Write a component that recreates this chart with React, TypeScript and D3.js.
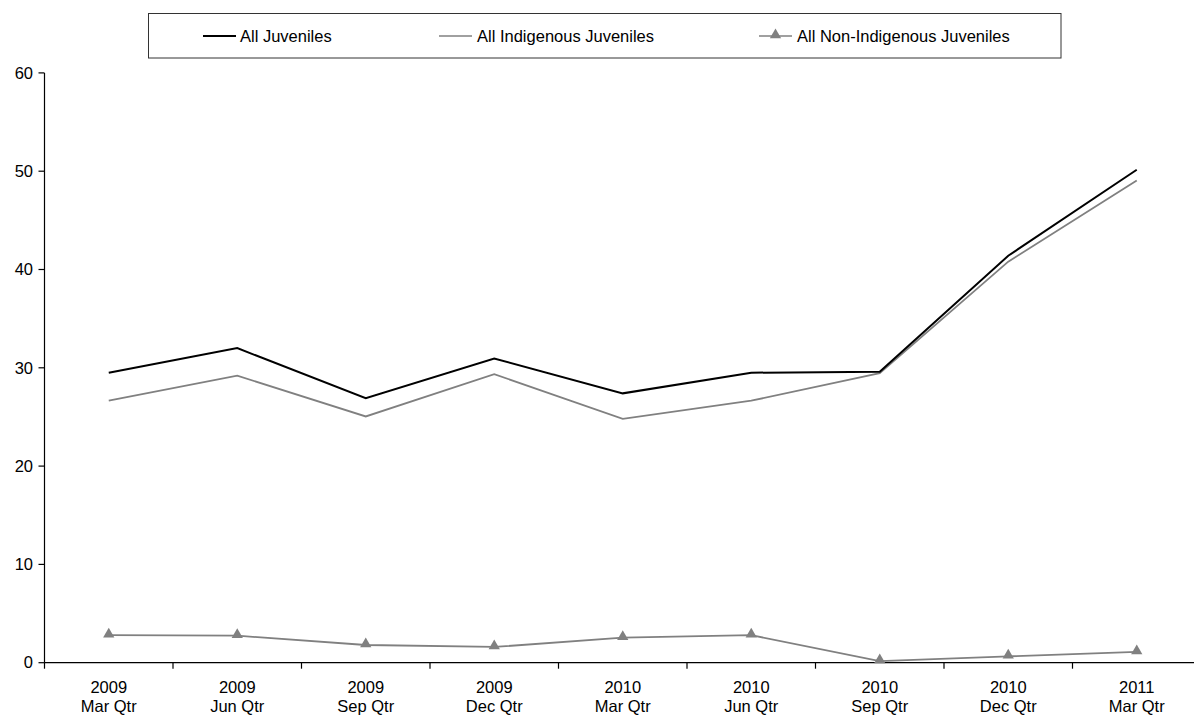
import React from "react";
import * as d3 from "d3";

const years = ["2009", "2009", "2009", "2009", "2010", "2010", "2010", "2010", "2011"];
const quarters = ["Mar Qtr", "Jun Qtr", "Sep Qtr", "Dec Qtr", "Mar Qtr", "Jun Qtr", "Sep Qtr", "Dec Qtr", "Mar Qtr"];
const categories = years.map((y, i) => `${y} ${quarters[i]}`);

const allJuveniles = [29.5, 32.0, 26.9, 30.95, 27.4, 29.5, 29.6, 41.4, 50.15];
const indigenousJuveniles = [26.65, 29.2, 25.05, 29.35, 24.8, 26.65, 29.45, 40.8, 49.05];
const nonIndigenousJuveniles = [2.8, 2.75, 1.8, 1.6, 2.55, 2.8, 0.17, 0.65, 1.1];

const yTicks = [0, 10, 20, 30, 40, 50, 60];

const seriesNames = ["All Juveniles", "All Indigenous Juveniles", "All Non-Indigenous Juveniles"];

const FONT = "'Liberation Sans', Arial, sans-serif";

export default function App() {
  const W = 1194, H = 715;
  const x0 = 44.5, step = 128.5;
  const x = d3.scaleBand<string>().domain(categories).range([x0, x0 + step * categories.length]).padding(0);
  const y = d3.scaleLinear().domain([0, 60]).range([662.7, 72.9]);
  const cx = (c: string) => (x(c) as number) + x.bandwidth() / 2;

  const line = d3.line<number>().x((_, i) => cx(categories[i])).y((d) => y(d));
  const tri = d3.symbol().type(d3.symbolTriangle).size(55);
  const triPath = tri() as string;

  const tickXs = categories.map((c) => x(c) as number).concat([(x(categories[categories.length - 1]) as number) + x.bandwidth()]);

  const legendEntries = [
    { name: seriesNames[0], x1: 203, x2: 236, tx: 240, color: "#000", w: 2, marker: false },
    { name: seriesNames[1], x1: 439, x2: 472, tx: 477, color: "#808080", w: 1.5, marker: false },
    { name: seriesNames[2], x1: 759, x2: 792, tx: 797, color: "#808080", w: 1.5, marker: true },
  ];

  return (
    <svg width={W} height={H} style={{ position: "absolute", left: 0, top: 0, background: "#fff" }} fontFamily={FONT}>
      {/* Legend */}
      <rect x={148.5} y={13.5} width={912.5} height={44.5} fill="#fff" stroke="#333" strokeWidth={1} />
      {legendEntries.map((e) => (
        <g key={e.name}>
          <line x1={e.x1} x2={e.x2} y1={36} y2={36} stroke={e.color} strokeWidth={e.w} />
          {e.marker && <path d={triPath} transform={`translate(${(e.x1 + e.x2) / 2},35)`} fill="#808080" />}
          <text x={e.tx} y={36.5} dy="0.35em" fontSize={16.5} fill="#000">{e.name}</text>
        </g>
      ))}

      {/* Y axis */}
      <line x1={x0} x2={x0} y1={y(60)} y2={y(0)} stroke="#000" strokeWidth={1.2} />
      {yTicks.map((t) => (
        <g key={t}>
          <line x1={x0 - 6} x2={x0} y1={y(t)} y2={y(t)} stroke="#000" strokeWidth={1.2} />
          <text x={33} y={y(t)} dy="0.35em" textAnchor="end" fontSize={16.5} fill="#000">{t}</text>
        </g>
      ))}

      {/* X axis */}
      <line x1={x0} x2={W} y1={y(0)} y2={y(0)} stroke="#000" strokeWidth={1.2} />
      {tickXs.map((tx, i) => (
        <line key={i} x1={tx} x2={tx} y1={y(0)} y2={y(0) + 6} stroke="#000" strokeWidth={1.2} />
      ))}
      {categories.map((c, i) => (
        <text key={c} x={cx(c)} textAnchor="middle" fontSize={16.5} fill="#000">
          <tspan x={cx(c)} y={693}>{years[i]}</tspan>
          <tspan x={cx(c)} y={712}>{quarters[i]}</tspan>
        </text>
      ))}

      {/* Series */}
      <path d={line(indigenousJuveniles) as string} fill="none" stroke="#808080" strokeWidth={1.8} />
      <path d={line(allJuveniles) as string} fill="none" stroke="#000" strokeWidth={2} />
      <path d={line(nonIndigenousJuveniles) as string} fill="none" stroke="#808080" strokeWidth={1.8} />
      {nonIndigenousJuveniles.map((v, i) => (
        <path key={i} d={triPath} transform={`translate(${cx(categories[i])},${y(v) - 1})`} fill="#808080" />
      ))}
    </svg>
  );
}
